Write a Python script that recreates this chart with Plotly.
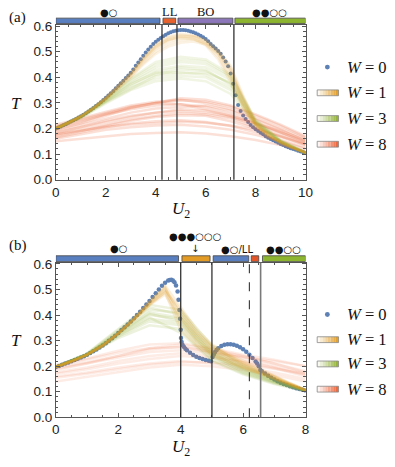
import plotly.graph_objects as go

W_ = 395
H_ = 467

# ---------------- Panel (a) data ----------------
a_u0 = [round(0.1 * i, 1) for i in range(101)]
a_w0 = [.200, .204, .208, .213, .217, .222, .227, .232, .237, .243,
        .248, .254, .260, .266, .273, .280, .288, .295, .303, .311,
        .320, .329, .338, .347, .357, .367, .377, .387, .397, .407,
        .418, .431, .445, .458, .471, .484, .497, .509, .520, .530,
        .539, .547, .554, .561, .567, .572, .576, .580, .582, .584,
        .585, .585, .584, .582, .579, .576, .572, .568, .563, .557,
        .550, .541, .530, .522, .513, .503, .492, .478, .462, .443,
        .415, .375, .330, .292, .268, .251, .237, .225, .214, .205,
        .197, .190, .183, .177, .170, .164, .159, .154, .149, .144,
        .139, .135, .131, .127, .123, .120, .117, .113, .110, .107,
        .104]

a_u1 = [0, .5, 1, 1.5, 2, 2.5, 3, 3.5, 4, 4.5, 5, 5.5, 6, 6.5, 7, 7.5, 8, 8.5, 9, 9.5, 10]
a_w1 = [
    [.200, .222, .248, .279, .318, .363, .412, .470, .520, .550, .562, .560, .545, .505, .430, .300, .215, .172, .145, .124, .106],
    [.201, .223, .249, .281, .321, .366, .415, .476, .527, .556, .566, .563, .540, .490, .400, .285, .210, .170, .143, .122, .105],
    [.199, .221, .246, .277, .314, .357, .402, .455, .500, .530, .545, .548, .535, .500, .440, .320, .222, .176, .147, .125, .106],
    [.200, .222, .247, .278, .316, .360, .408, .462, .510, .540, .553, .552, .530, .480, .395, .290, .212, .170, .144, .123, .105],
    [.200, .222, .248, .280, .319, .365, .414, .472, .522, .548, .556, .550, .525, .470, .380, .280, .208, .168, .142, .122, .104],
    [.199, .221, .247, .278, .317, .362, .410, .466, .515, .545, .560, .558, .538, .495, .420, .310, .218, .174, .146, .124, .105],
    [.201, .223, .250, .282, .322, .368, .416, .478, .530, .560, .570, .565, .548, .508, .445, .330, .225, .178, .148, .126, .106],
    [.200, .221, .246, .276, .313, .355, .400, .450, .492, .520, .535, .540, .528, .492, .425, .315, .220, .175, .146, .124, .105],
]

a_u38 = [0, 1, 2, 3, 4, 5, 6, 7, 8, 9, 10]
a_w3 = [
    [.200, .246, .312, .380, .430, .445, .440, .390, .225, .150, .105],
    [.198, .243, .305, .365, .410, .430, .425, .375, .220, .148, .104],
    [.201, .248, .316, .392, .450, .470, .462, .405, .232, .152, .106],
    [.199, .244, .306, .360, .395, .405, .400, .350, .215, .146, .104],
    [.200, .247, .314, .385, .440, .460, .452, .400, .228, .151, .105],
    [.197, .240, .298, .350, .385, .395, .385, .335, .210, .145, .103],
    [.202, .250, .318, .395, .460, .480, .470, .412, .235, .154, .107],
    [.199, .245, .308, .372, .420, .438, .430, .370, .218, .147, .104],
    [.200, .246, .310, .375, .418, .420, .410, .360, .222, .149, .105],
    [.198, .242, .302, .355, .405, .415, .418, .380, .226, .150, .105],
]
a_w8 = [
    [.200, .225, .255, .275, .290, .295, .285, .260, .225, .185, .150],
    [.180, .205, .230, .250, .262, .268, .262, .245, .215, .180, .140],
    [.215, .240, .265, .290, .305, .312, .300, .275, .240, .200, .160],
    [.165, .185, .205, .220, .228, .232, .225, .210, .185, .155, .125],
    [.195, .220, .250, .280, .300, .310, .305, .285, .250, .210, .165],
    [.175, .195, .215, .235, .250, .260, .255, .240, .205, .170, .135],
    [.210, .235, .262, .285, .300, .295, .275, .250, .220, .190, .155],
    [.160, .178, .195, .205, .212, .215, .208, .195, .175, .150, .120],
    [.190, .215, .240, .262, .278, .285, .290, .270, .235, .195, .150],
    [.205, .230, .258, .282, .300, .318, .312, .290, .255, .215, .170],
    [.185, .205, .225, .245, .262, .275, .270, .250, .220, .185, .145],
    [.170, .190, .210, .230, .245, .252, .250, .228, .200, .168, .135],
    [.150, .160, .170, .178, .182, .185, .180, .170, .155, .135, .110],
    [.178, .192, .206, .216, .221, .226, .222, .212, .195, .170, .140],
]
a_vlines = [4.25, 4.85, 7.13]
a_bars = [(0, 4.17, "#5A7FC0"), (4.29, 4.80, "#E8622D"), (4.89, 7.09, "#8B77B9"), (7.17, 10, "#8DB52F")]
a_bar_labels = [(2.1, "●○"), (4.55, "LL"), (6.0, "BO"), (8.57, "●●○○")]

# ---------------- Panel (b) data ----------------
b_u0 = [0.0, 0.1, 0.2, 0.3, 0.4, 0.5, 0.6, 0.7, 0.8, 0.9,
        1.0, 1.1, 1.2, 1.3, 1.4, 1.5, 1.6, 1.7, 1.8, 1.9,
        2.0, 2.1, 2.2, 2.3, 2.4, 2.5, 2.6, 2.7, 2.8, 2.9,
        3.0, 3.1, 3.2, 3.3, 3.4, 3.5, 3.6, 3.65, 3.7, 3.75, 3.8, 3.85, 3.9, 3.93, 3.96, 3.98,
        4.0, 4.01, 4.03, 4.06, 4.1, 4.15, 4.2, 4.3, 4.4, 4.5, 4.6, 4.7, 4.8, 4.9, 4.97,
        5.02, 5.06, 5.1, 5.15, 5.2, 5.3, 5.4, 5.5, 5.6, 5.7, 5.8, 5.9,
        6.0, 6.1, 6.2, 6.3, 6.4, 6.45, 6.5, 6.55,
        6.6, 6.7, 6.8, 6.9, 7.0, 7.1, 7.2, 7.3, 7.4, 7.5, 7.6, 7.7, 7.8, 7.9, 8.0]
b_w0 = [.197, .201, .205, .210, .214, .219, .224, .229, .234, .239,
        .245, .251, .258, .265, .273, .281, .290, .299, .309, .319,
        .330, .341, .352, .363, .375, .387, .400, .413, .427, .441,
        .455, .470, .485, .500, .514, .526, .535, .537, .538, .535, .528, .515, .492, .460, .420, .385,
        .342, .310, .294, .283, .276, .268, .262, .252, .244, .237, .232, .228, .224, .221, .219,
        .236, .246, .255, .263, .270, .279, .284, .286, .286, .284, .280, .274,
        .266, .256, .245, .232, .218, .210, .200, .185,
        .180, .171, .162, .155, .148, .141, .135, .130, .126, .121, .117, .114, .111, .108, .105]

b_u1 = [0, .5, 1, 1.5, 2, 2.5, 3, 3.5, 4, 4.5, 5, 5.5, 6, 6.5, 7, 7.5, 8]
b_w1 = [
    [.197, .219, .245, .281, .329, .385, .450, .505, .400, .320, .270, .238, .210, .182, .158, .130, .106],
    [.197, .219, .245, .280, .328, .383, .445, .495, .420, .335, .280, .245, .215, .186, .160, .132, .107],
    [.197, .218, .244, .279, .326, .380, .438, .480, .380, .300, .255, .226, .200, .175, .152, .128, .106],
    [.198, .220, .246, .282, .330, .386, .452, .515, .430, .345, .285, .250, .222, .192, .163, .134, .108],
    [.196, .218, .244, .279, .327, .381, .440, .490, .390, .310, .262, .232, .205, .178, .155, .129, .106],
    [.197, .219, .245, .281, .330, .386, .452, .510, .360, .290, .248, .220, .196, .172, .150, .127, .106],
    [.197, .219, .246, .281, .329, .384, .447, .500, .410, .328, .275, .242, .212, .184, .158, .131, .107],
    [.196, .218, .244, .280, .327, .382, .442, .488, .340, .280, .242, .215, .192, .170, .148, .126, .105],
]
b_u38 = [0, 1, 2, 3, 4, 5, 6, 7, 8]
b_w3 = [
    [.197, .245, .325, .400, .385, .250, .190, .145, .105],
    [.197, .246, .335, .420, .410, .270, .200, .150, .106],
    [.196, .243, .315, .375, .360, .235, .180, .138, .104],
    [.198, .248, .340, .430, .400, .260, .195, .148, .105],
    [.196, .242, .310, .360, .345, .225, .172, .133, .103],
    [.197, .247, .330, .410, .390, .255, .188, .142, .105],
    [.198, .250, .345, .440, .420, .280, .205, .152, .107],
    [.196, .244, .318, .385, .370, .240, .176, .136, .104],
    [.197, .245, .322, .390, .330, .220, .168, .130, .103],
    [.197, .246, .328, .405, .375, .245, .185, .140, .105],
]
b_w8 = [
    [.195, .215, .240, .265, .275, .255, .230, .200, .170],
    [.175, .195, .220, .240, .250, .240, .220, .195, .165],
    [.205, .230, .260, .285, .290, .270, .245, .225, .200],
    [.160, .175, .195, .210, .220, .210, .195, .175, .150],
    [.185, .210, .240, .270, .285, .265, .240, .210, .180],
    [.140, .158, .178, .195, .205, .200, .185, .165, .140],
    [.190, .212, .235, .255, .262, .250, .235, .220, .200],
    [.170, .188, .210, .228, .240, .232, .215, .192, .160],
    [.200, .225, .252, .270, .275, .258, .238, .210, .175],
    [.155, .170, .188, .205, .215, .215, .205, .190, .170],
]
b_vlines = [(4.0, "solid", "#333333", 1.3), (5.0, "solid", "#333333", 1.3),
            (6.2, "dash", "#333333", 1.1), (6.56, "solid", "#7a7a7a", 1.6)]
b_bars = [(0, 3.93, "#5A7FC0"), (4.04, 4.94, "#E39B25"), (5.04, 6.18, "#5A7FC0"),
          (6.26, 6.50, "#E4552A"), (6.62, 8.0, "#8DB52F")]

legend_labels = ["<i>W</i> = 0", "<i>W</i> = 1", "<i>W</i> = 3", "<i>W</i> = 8"]

C0 = "#5E81B5"
C1 = "rgba(225,156,36,{a})"
C3 = "rgba(143,176,50,{a})"
C8 = "rgba(235,98,53,{a})"

def px(x):
    return x / W_

def py(y):
    return 1 - y / H_

fig = go.Figure()

# Panel (a) traces
fig.add_trace(go.Scatter(x=a_u0, y=a_w0, mode="markers", marker=dict(color=C0, size=4),
                         xaxis="x", yaxis="y", showlegend=False))
for ys in a_w8:
    fig.add_trace(go.Scatter(x=a_u38, y=ys, mode="lines", line=dict(color=C8.format(a=0.2), width=2.5),
                             xaxis="x", yaxis="y", showlegend=False))
for ys in a_w3:
    fig.add_trace(go.Scatter(x=a_u38, y=ys, mode="lines", line=dict(color=C3.format(a=0.13), width=2.5),
                             xaxis="x", yaxis="y", showlegend=False))
for ys in a_w1:
    fig.add_trace(go.Scatter(x=a_u1, y=ys, mode="lines", line=dict(color=C1.format(a=0.13), width=2.5),
                             xaxis="x", yaxis="y", showlegend=False))

# Panel (b) traces
fig.add_trace(go.Scatter(x=b_u0, y=b_w0, mode="markers", marker=dict(color=C0, size=4.5),
                         xaxis="x2", yaxis="y2", showlegend=False))
for ys in b_w8:
    fig.add_trace(go.Scatter(x=b_u38, y=ys, mode="lines", line=dict(color=C8.format(a=0.12), width=2.5),
                             xaxis="x2", yaxis="y2", showlegend=False))
for ys in b_w3:
    fig.add_trace(go.Scatter(x=b_u38, y=ys, mode="lines", line=dict(color=C3.format(a=0.16), width=2.5),
                             xaxis="x2", yaxis="y2", showlegend=False))
for ys in b_w1:
    fig.add_trace(go.Scatter(x=b_u1, y=ys, mode="lines", line=dict(color=C1.format(a=0.16), width=2.5),
                             xaxis="x2", yaxis="y2", showlegend=False))

shapes = []
annotations = []

for xv in a_vlines:
    shapes.append(dict(type="line", xref="x", yref="y domain", x0=xv, x1=xv, y0=0, y1=1,
                       line=dict(color="#333333", width=1.3)))
for xv, dash, col, wd in b_vlines:
    shapes.append(dict(type="line", xref="x2", yref="y2 domain", x0=xv, x1=xv, y0=0, y1=1,
                       line=dict(color=col, width=wd, dash=dash)))

# Top bars
for x0, x1, col in a_bars:
    shapes.append(dict(type="rect", xref="x", yref="paper", x0=x0, x1=x1, y0=py(18), y1=py(12.5),
                       fillcolor=col, line=dict(color="#444444", width=0.8)))
for x0, x1, col in b_bars:
    shapes.append(dict(type="rect", xref="x2", yref="paper", x0=x0, x1=x1, y0=py(263.5), y1=py(257.5),
                       fillcolor=col, line=dict(color="#444444", width=0.8)))

SERIF = "Liberation Serif"
SANS = "Liberation Sans"

for xv, txt in a_bar_labels:
    is_dot = "●" in txt
    annotations.append(dict(xref="x", yref="paper", x=xv, y=py(6.5), text=txt, showarrow=False,
                            font=dict(family="DejaVu Sans" if is_dot else SERIF,
                                      size=10 if is_dot else 12.5, color="#111111"),
                            xanchor="center", yanchor="middle"))
b_bar_labels = [(2.0, 250.5, "●○"), (4.47, 238, "●●●○○○"), (5.8, 251, "●○/LL"), (7.3, 251, "●●○○")]
for xv, yy, txt in b_bar_labels:
    annotations.append(dict(xref="x2", yref="paper", x=xv, y=py(yy), text=txt, showarrow=False,
                            font=dict(family="DejaVu Sans", size=10, color="#111111"),
                            xanchor="center", yanchor="middle"))
# arrow under ●●●○○○
annotations.append(dict(xref="x2", yref="paper", x=4.47, y=py(249.5), text="↓", showarrow=False,
                        font=dict(family="DejaVu Sans", size=10, color="#111111"),
                        xanchor="center", yanchor="middle"))

# Panel labels
annotations.append(dict(xref="paper", yref="paper", x=px(3), y=py(12), text="(a)", showarrow=False,
                        font=dict(family=SERIF, size=15, color="#111111"), xanchor="left", yanchor="middle"))
annotations.append(dict(xref="paper", yref="paper", x=px(3), y=py(247), text="(b)", showarrow=False,
                        font=dict(family=SERIF, size=15, color="#111111"), xanchor="left", yanchor="middle"))

# Axis titles
for ty, ub in [(100, 224), (345, 469)]:
    annotations.append(dict(xref="paper", yref="paper", x=px(13), y=py(ty), text="<i>T</i>", showarrow=False,
                            font=dict(family=SERIF, size=17, color="#111111"), xanchor="center", yanchor="middle"))
    annotations.append(dict(xref="paper", yref="paper", x=px(183), y=py(ub), text="<i>U</i><sub>2</sub>",
                            showarrow=False, font=dict(family=SERIF, size=17, color="#111111"),
                            xanchor="center", yanchor="bottom"))

# Legends
def add_legend(rows_y):
    cols = [None, (225, 156, 36), (143, 176, 50), (235, 98, 53)]
    for i, yy in enumerate(rows_y):
        if i == 0:
            shapes.append(dict(type="circle", xref="paper", yref="paper",
                               x0=px(331), x1=px(336), y0=py(yy + 2.5), y1=py(yy - 2.5),
                               fillcolor=C0, line=dict(color=C0, width=0)))
        else:
            r, g, b = cols[i]
            n = 8
            x0, x1 = 323.0, 345.0
            for k in range(n):
                t = (k + 0.5) / n
                rr = int(255 + (r - 255) * t)
                gg = int(255 + (g - 255) * t)
                bb = int(255 + (b - 255) * t)
                shapes.append(dict(type="rect", xref="paper", yref="paper",
                                   x0=px(x0 + (x1 - x0) * k / n), x1=px(x0 + (x1 - x0) * (k + 1) / n),
                                   y0=py(yy + 3), y1=py(yy - 3),
                                   fillcolor=f"rgb({rr},{gg},{bb})", line=dict(width=0)))
            shapes.append(dict(type="rect", xref="paper", yref="paper", x0=px(x0), x1=px(x1),
                               y0=py(yy + 3), y1=py(yy - 3), fillcolor="rgba(0,0,0,0)",
                               line=dict(color="#888888", width=0.8)))
        annotations.append(dict(xref="paper", yref="paper", x=px(352), y=py(yy), text=legend_labels[i],
                                showarrow=False, font=dict(family=SERIF, size=16.5, color="#111111"),
                                xanchor="left", yanchor="middle"))

add_legend([63, 89.5, 116, 142.5])
add_legend([318, 344, 369, 395])

axis_common = dict(showline=True, mirror="ticks", linecolor="#555555", linewidth=1,
                   ticks="inside", ticklen=4, tickcolor="#555555", showgrid=False, zeroline=False,
                   tickfont=dict(family=SANS, size=13.5, color="#222222"))

fig.update_layout(
    width=W_, height=H_, margin=dict(l=0, r=0, t=0, b=0),
    paper_bgcolor="white", plot_bgcolor="white", showlegend=False,
    xaxis=dict(domain=[px(53.5), px(311)], range=[0, 10], anchor="y", tickvals=[0, 2, 4, 6, 8, 10],
               minor=dict(dtick=0.5, ticks="inside", ticklen=2.5, tickcolor="#555555"), **axis_common),
    yaxis=dict(domain=[py(179), py(19.5)], range=[0, 0.605], anchor="x", tickvals=[0, .1, .2, .3, .4, .5, .6],
               tickformat=".1f", minor=dict(dtick=0.02, ticks="inside", ticklen=2.5, tickcolor="#555555"),
               **axis_common),
    xaxis2=dict(domain=[px(53.5), px(311)], range=[0, 8], anchor="y2", tickvals=[0, 2, 4, 6, 8],
                minor=dict(dtick=0.5, ticks="inside", ticklen=2.5, tickcolor="#555555"), **axis_common),
    yaxis2=dict(domain=[py(424), py(264.5)], range=[0, 0.605], anchor="x2", tickvals=[0, .1, .2, .3, .4, .5, .6],
                tickformat=".1f", minor=dict(dtick=0.02, ticks="inside", ticklen=2.5, tickcolor="#555555"),
                **axis_common),
    shapes=shapes, annotations=annotations,
)

fig.write_html("out.html", config={"displayModeBar": False},
               post_script="document.body.style.margin='0px';document.body.style.overflow='hidden';")
